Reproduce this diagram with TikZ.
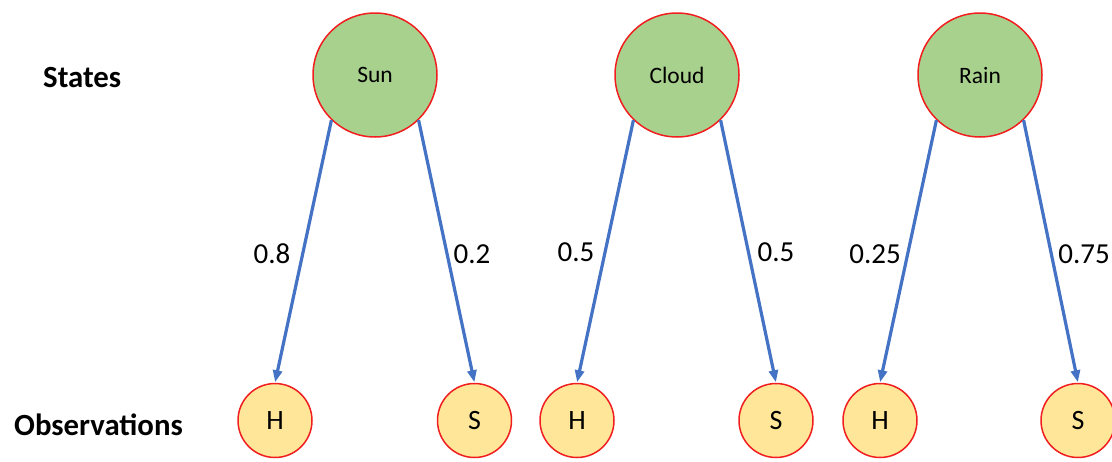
\documentclass[tikz,border=0pt]{standalone}
\usepackage{fontspec}
\setmainfont{Carlito}
\usetikzlibrary{arrows.meta}
\definecolor{stategreen}{HTML}{A9D18E}
\definecolor{obsyellow}{HTML}{FFE699}
\definecolor{rimred}{HTML}{F01E1E}
\definecolor{edgeblue}{HTML}{4472C4}
\tikzset{
  statenode/.style={circle, draw=rimred, line width=1.5pt, fill=stategreen,
    minimum size=124pt, inner sep=0pt, font=\fontsize{23.5}{27}\selectfont},
  obsnode/.style={circle, draw=rimred, line width=1.5pt, fill=obsyellow,
    minimum size=74pt, inner sep=0pt, font=\fontsize{28}{32}\selectfont},
  rowlabel/.style={anchor=base west, inner sep=0pt, font=\fontsize{30.8}{34}\selectfont\bfseries},
  problabel/.style={anchor=base, inner sep=0pt, font=\fontsize{29}{32}\selectfont},
  emit/.style={draw=edgeblue, line width=3.2pt,
    -{Triangle[length=12pt,width=9pt]}, shorten >=0.5pt}
}
\begin{document}
\begin{tikzpicture}[x=1pt,y=-1pt]
\useasboundingbox (0,0) rectangle (1112,461);

% row labels
\node[rowlabel] (lstates) at (43,87) {States};
\node[rowlabel] (lobs) at (14,435) {Observations};

% hidden states
\node[statenode] (sun) at (375,75) {\raisebox{-2pt}{Sun}};
\node[statenode] (cloud) at (677,75) {\raisebox{-2pt}{Cloud}};
\node[statenode] (rain) at (980,75) {\raisebox{-2pt}{Rain}};

% observations
\node[obsnode] (h1) at (275,420.5) {\raisebox{-5pt}{H}};
\node[obsnode] (s1) at (474.5,420.5) {\raisebox{-5pt}{S}};
\node[obsnode] (h2) at (577,420.5) {\raisebox{-5pt}{H}};
\node[obsnode] (s2) at (776,420.5) {\raisebox{-5pt}{S}};
\node[obsnode] (h3) at (880,420.5) {\raisebox{-5pt}{H}};
\node[obsnode] (s3) at (1078,420.5) {\raisebox{-5pt}{S}};

% emission arrows
\draw[emit] (sun.-134) -- (h1.north);
\draw[emit] (sun.-46) -- (s1.north);
\draw[emit] (cloud.-134) -- (h2.north);
\draw[emit] (cloud.-46) -- (s2.north);
\draw[emit] (rain.-134) -- (h3.north);
\draw[emit] (rain.-46) -- (s3.north);

% emission probabilities
\node[problabel] (p1) at (272,263) {0.8};
\node[problabel] (p2) at (472,263) {0.2};
\node[problabel] (p3) at (576,261) {0.5};
\node[problabel] (p4) at (776,261) {0.5};
\node[problabel] (p5) at (875,263) {0.25};
\node[problabel] (p6) at (1084,263) {0.75};
\end{tikzpicture}
\end{document}
